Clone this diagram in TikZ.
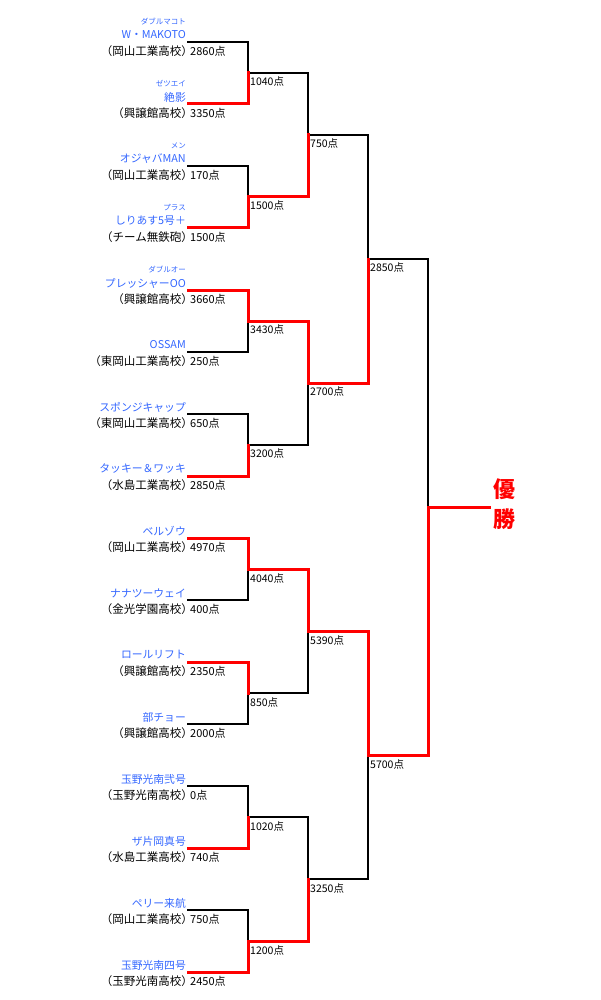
\documentclass[tikz,border=0pt]{standalone}
\usepackage{fontspec}
\setmainfont{Noto Sans CJK JP}
\definecolor{teamblue}{RGB}{51,102,255}
\definecolor{winred}{RGB}{255,0,0}
\tikzset{
 lose/.style={draw=black,line width=2.2pt,line cap=rect},
 win/.style={draw=winred,line width=3pt,line cap=rect},
 tname/.style={anchor=east,text=teamblue,font=\fontsize{10.8}{12}\selectfont,inner sep=0pt},
 ruby/.style={anchor=east,text=teamblue,font=\fontsize{7.5}{8}\selectfont,inner sep=0pt},
 school/.style={anchor=east,font=\fontsize{11.5}{12}\selectfont,inner sep=0pt},
 score/.style={anchor=west,font=\fontsize{11}{12}\selectfont,inner sep=0pt},
 mscore/.style={anchor=west,font=\fontsize{10.5}{11}\selectfont,inner sep=0pt},
 champ/.style={text=winred,font=\fontsize{22}{30}\selectfont\bfseries,align=center,inner sep=0pt},
}
\newcommand\teamrow[5]{%
 \coordinate (t#1) at (188,#2);
 \node[tname] (n#1) at (186,#2-7) {#3};
 \node[school] (h#1) at (193,#2+9) {#4};
 \node[score] (p#1) at (190,#2+9) {#5点};
}
\newcommand\rubyrow[3]{\node[ruby] (r#1) at (186,#2-20) {#3};}
\begin{document}
\begin{tikzpicture}[x=1pt,y=-1pt]
\useasboundingbox (0,0) rectangle (600,1000);
\teamrow{1}{42}{W・MAKOTO}{（岡山工業高校）}{2860}
\rubyrow{1}{42}{ダブルマコト}
\teamrow{2}{104}{絶影}{（興譲館高校）}{3350}
\rubyrow{2}{104}{ゼツエイ}
\teamrow{3}{166}{オジャバMAN}{（岡山工業高校）}{170}
\rubyrow{3}{166}{メン}
\teamrow{4}{228}{しりあす5号＋}{（チーム無鉄砲）}{1500}
\rubyrow{4}{228}{プラス}
\teamrow{5}{290}{プレッシャーOO}{（興譲館高校）}{3660}
\rubyrow{5}{290}{ダブルオー}
\teamrow{6}{352}{OSSAM}{（東岡山工業高校）}{250}
\teamrow{7}{414}{スポンジキャップ}{（東岡山工業高校）}{650}
\teamrow{8}{476}{タッキー＆ワッキ}{（水島工業高校）}{2850}
\teamrow{9}{538}{ベルゾウ}{（岡山工業高校）}{4970}
\teamrow{10}{600}{ナナツーウェイ}{（金光学園高校）}{400}
\teamrow{11}{662}{ロールリフト}{（興譲館高校）}{2350}
\teamrow{12}{724}{部チョー}{（興譲館高校）}{2000}
\teamrow{13}{786}{玉野光南弐号}{（玉野光南高校）}{0}
\teamrow{14}{848}{ザ片岡真号}{（水島工業高校）}{740}
\teamrow{15}{910}{ペリー来航}{（岡山工業高校）}{750}
\teamrow{16}{972}{玉野光南四号}{（玉野光南高校）}{2450}
% junctions
\coordinate (m1) at (248,73);
\coordinate (m2) at (248,197);
\coordinate (m3) at (248,321);
\coordinate (m4) at (248,445);
\coordinate (m5) at (248,569);
\coordinate (m6) at (248,693);
\coordinate (m7) at (248,817);
\coordinate (m8) at (248,941);
\coordinate (s1) at (308,135);
\coordinate (s2) at (308,383);
\coordinate (s3) at (308,631);
\coordinate (s4) at (308,879);
\coordinate (q1) at (368,259);
\coordinate (q2) at (368,755);
\coordinate (f) at (428,507);
\coordinate (fe) at (489,507);
% losing paths
\draw[lose] (t1) -| (m1);
\draw[lose] (t3) -| (m2);
\draw[lose] (t6) -| (m3);
\draw[lose] (t7) -| (m4);
\draw[lose] (t10) -| (m5);
\draw[lose] (t12) -| (m6);
\draw[lose] (t13) -| (m7);
\draw[lose] (t15) -| (m8);
\draw[lose] (m1) -| (s1);
\draw[lose] (m4) -| (s2);
\draw[lose] (m6) -| (s3);
\draw[lose] (m7) -| (s4);
\draw[lose] (s1) -| (q1);
\draw[lose] (s4) -| (q2);
\draw[lose] (q1) -| (f);
% winning paths
\draw[win] (t2) -| (m1);
\draw[win] (t4) -| (m2);
\draw[win] (t5) -| (m3);
\draw[win] (t8) -| (m4);
\draw[win] (t9) -| (m5);
\draw[win] (t11) -| (m6);
\draw[win] (t14) -| (m7);
\draw[win] (t16) -| (m8);
\draw[win] (m2) -| (s1);
\draw[win] (m3) -| (s2);
\draw[win] (m5) -| (s3);
\draw[win] (m8) -| (s4);
\draw[win] (s2) -| (q1);
\draw[win] (s3) -| (q2);
\draw[win] (q2) -| (f);
\draw[win] (f) -- (fe);
% match scores
\node[mscore] (c1) at (250,73+9) {1040点};
\node[mscore] (c2) at (250,197+9) {1500点};
\node[mscore] (c3) at (250,321+9) {3430点};
\node[mscore] (c4) at (250,445+9) {3200点};
\node[mscore] (c5) at (250,569+9) {4040点};
\node[mscore] (c6) at (250,693+9) {850点};
\node[mscore] (c7) at (250,817+9) {1020点};
\node[mscore] (c8) at (250,941+9) {1200点};
\node[mscore] (d1) at (310,135+9) {750点};
\node[mscore] (d2) at (310,383+9) {2700点};
\node[mscore] (d3) at (310,631+9) {5390点};
\node[mscore] (d4) at (310,879+9) {3250点};
\node[mscore] (e1) at (370,259+9) {2850点};
\node[mscore] (e2) at (370,755+9) {5700点};
\node[champ] (win) at (504,504) {優\\勝};
\end{tikzpicture}
\end{document}
